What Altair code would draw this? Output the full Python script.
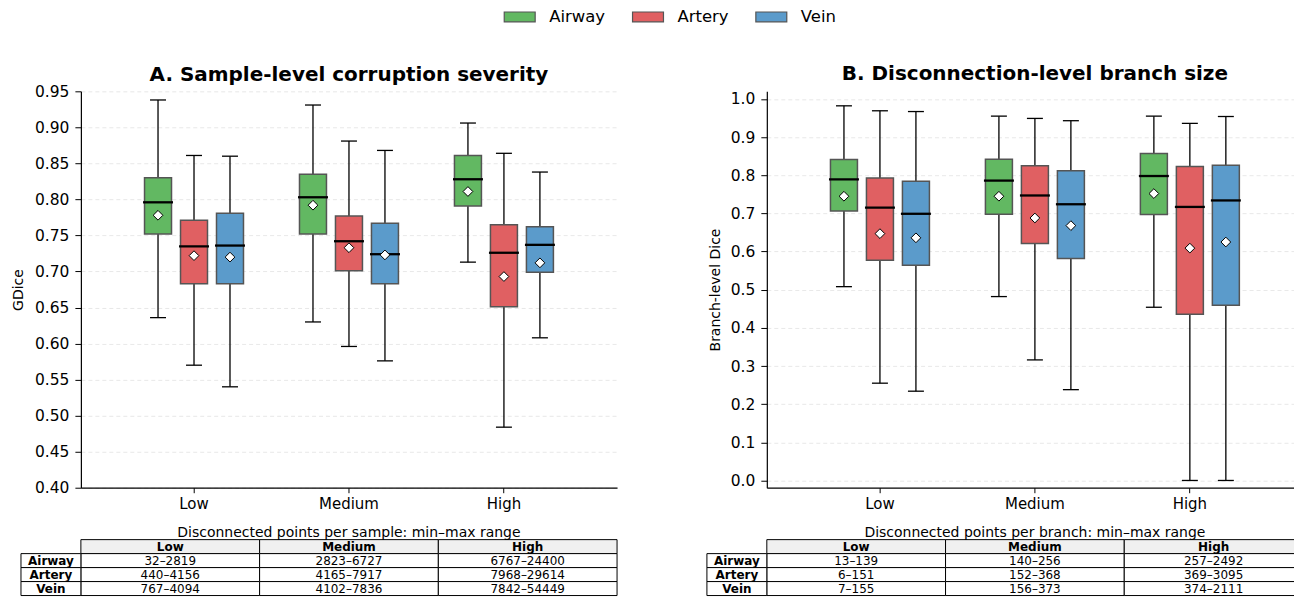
import altair as alt
import pandas as pd

levels = ["Low", "Medium", "High"]
tissues = ["Airway", "Artery", "Vein"]
colors = ["#62b862", "#e06062", "#5b9bcb"]

# Panel A (GDice) -- order: Low(Airway, Artery, Vein), Medium(...), High(...)
a_lo = [0.636, 0.570, 0.540, 0.630, 0.596, 0.576, 0.713, 0.484, 0.608]
a_q1 = [0.752, 0.683, 0.683, 0.752, 0.701, 0.683, 0.791, 0.651, 0.699]
a_med = [0.796, 0.735, 0.736, 0.803, 0.742, 0.724, 0.828, 0.726, 0.737]
a_mean = [0.778, 0.722, 0.720, 0.792, 0.733, 0.723, 0.811, 0.693, 0.712]
a_q3 = [0.830, 0.771, 0.781, 0.835, 0.777, 0.767, 0.861, 0.765, 0.762]
a_hi = [0.938, 0.861, 0.860, 0.931, 0.881, 0.868, 0.906, 0.864, 0.838]

# Panel B (Branch-level Dice)
b_lo = [0.508, 0.255, 0.234, 0.482, 0.316, 0.238, 0.454, 0.000, 0.000]
b_q1 = [0.706, 0.577, 0.564, 0.698, 0.621, 0.582, 0.697, 0.436, 0.459]
b_med = [0.789, 0.715, 0.699, 0.786, 0.747, 0.724, 0.798, 0.717, 0.734]
b_mean = [0.745, 0.647, 0.636, 0.745, 0.688, 0.668, 0.752, 0.609, 0.625]
b_q3 = [0.841, 0.793, 0.784, 0.842, 0.825, 0.812, 0.857, 0.823, 0.826]
b_hi = [0.982, 0.969, 0.967, 0.955, 0.949, 0.943, 0.955, 0.936, 0.954]

# Tables: min-max ranges of disconnected points
tab_a = [["32–2819", "2823–6727", "6767–24400"],
         ["440–4156", "4165–7917", "7968–29614"],
         ["767–4094", "4102–7836", "7842–54449"]]
tab_b = [["13–139", "140–256", "257–2492"],
         ["6–151", "152–368", "369–3095"],
         ["7–155", "156–373", "374–2111"]]

FONT = "DejaVu Sans"
BOX_H = 397
TAB_H = 56


def make_box(lo, q1, med, mean, q3, hi, ydom, yticks, fmt, title, ytitle,
             width, pad_outer, legend, title_pad, title_off):
    df = pd.DataFrame({
        "level": [l for l in levels for _ in tissues],
        "tissue": [t for _ in levels for t in tissues],
        "lo": lo, "q1": q1, "med": med, "mean": mean, "q3": q3, "hi": hi,
    })
    xenc = alt.X("level:N", sort=levels,
                 scale=alt.Scale(paddingInner=0, paddingOuter=pad_outer),
                 axis=alt.Axis(title=None, labelAngle=0, tickSize=5,
                               labelPadding=4, grid=False, labelFontSize=15))
    xoff = alt.XOffset("tissue:N", sort=tissues,
                       scale=alt.Scale(paddingInner=0.25, paddingOuter=0.778))
    ysc = alt.Scale(domain=ydom, nice=False, zero=False)
    yax = alt.Axis(values=yticks, format=fmt, grid=True, tickSize=6,
                   labelPadding=6, titlePadding=title_pad, labelOverlap=False,
                   labelFontSize=15.5, titleFontSize=14)

    def Y(f):
        return alt.Y(f, scale=ysc, axis=yax, title=ytitle)

    base = alt.Chart(df).encode(x=xenc, xOffset=xoff)
    whisk = base.mark_rule(color="black", strokeWidth=1.3).encode(
        y=Y("lo:Q"), y2="hi:Q")
    box = base.mark_bar(stroke="#555555", strokeWidth=1.5, opacity=1).encode(
        y=Y("q1:Q"), y2="q3:Q",
        color=alt.Color("tissue:N", sort=tissues,
                        scale=alt.Scale(domain=tissues, range=colors),
                        legend=legend))
    cap_lo = base.mark_tick(color="black", size=16, thickness=1.3,
                            opacity=1).encode(y=Y("lo:Q"))
    cap_hi = base.mark_tick(color="black", size=16, thickness=1.3,
                            opacity=1).encode(y=Y("hi:Q"))
    median = base.mark_tick(color="black", size=30, thickness=2.3,
                            opacity=1).encode(y=Y("med:Q"))
    mn = base.mark_point(shape="diamond", filled=True, fill="white",
                         stroke="black", strokeWidth=1, size=95,
                         opacity=1).encode(y=Y("mean:Q"))
    return alt.layer(whisk, box, cap_lo, cap_hi, median, mn).properties(
        width=width, height=BOX_H,
        title=alt.Title(title, font=FONT, fontSize=20, fontWeight="bold",
                        color="black", anchor="middle", offset=title_off))


def make_table(rows, title, width, label_w):
    ncol = len(levels)
    lab = -label_w * ncol / width
    hdr = pd.DataFrame({"x0": list(range(ncol)),
                        "x1": [i + 1 for i in range(ncol)],
                        "y0": [0] * ncol, "y1": [1] * ncol,
                        "xc": [i + 0.5 for i in range(ncol)],
                        "yc": [0.5] * ncol, "txt": levels})
    recs = []
    for r, t in enumerate(tissues):
        for c in range(ncol):
            recs.append({"x0": c, "x1": c + 1, "y0": r + 1, "y1": r + 2,
                         "xc": c + 0.5, "yc": r + 1.5, "txt": rows[r][c]})
    body = pd.DataFrame(recs)
    labs = pd.DataFrame({"x0": [lab] * 3, "x1": [0] * 3,
                         "y0": [1, 2, 3], "y1": [2, 3, 4],
                         "xc": [lab / 2] * 3, "yc": [1.5, 2.5, 3.5],
                         "txt": tissues})
    xs = alt.Scale(domain=[0, ncol], nice=False, zero=False)
    ys = alt.Scale(domain=[0, 4], nice=False, zero=False, reverse=True)

    def rect(df, fill):
        return alt.Chart(df).mark_rect(fill=fill, stroke="black",
                                       strokeWidth=1).encode(
            x=alt.X("x0:Q", scale=xs, axis=None), x2="x1:Q",
            y=alt.Y("y0:Q", scale=ys, axis=None), y2="y1:Q")

    def text(df, weight):
        return alt.Chart(df).mark_text(font=FONT, fontSize=12,
                                       fontWeight=weight, color="black",
                                       baseline="middle", dy=0.5).encode(
            x=alt.X("xc:Q", scale=xs, axis=None),
            y=alt.Y("yc:Q", scale=ys, axis=None), text="txt:N")

    ttl = alt.Chart(pd.DataFrame({"t": [title]})).mark_text(
        font=FONT, fontSize=14, color="black", baseline="middle").encode(
        x=alt.value(width / 2), y=alt.value(-7), text="t:N")
    return alt.layer(rect(hdr, "#f0f0f0"), rect(body, "white"),
                     rect(labs, "white"), text(hdr, "bold"),
                     text(body, "normal"), text(labs, "bold"),
                     ttl).properties(width=width, height=TAB_H)


legend = alt.Legend(title=None, orient="none", legendX=431, legendY=-83,
                    direction="horizontal", columns=3,
                    symbolType="M-2,-0.64H2V0.64H-2Z", symbolSize=240,
                    symbolStrokeColor="#555555", symbolStrokeWidth=1.2,
                    symbolOpacity=1, labelFont=FONT, labelFontSize=16.5,
                    labelColor="black", labelOffset=21, columnPadding=23.5,
                    padding=0)

WA, WB = 537, 537
boxA = make_box(a_lo, a_q1, a_med, a_mean, a_q3, a_hi, [0.40, 0.95],
                [round(0.40 + 0.05 * i, 2) for i in range(12)], ".2f",
                "A. Sample-level corruption severity", "GDice", WA, 0.23,
                legend, 9, -1)
boxB = make_box(b_lo, b_q1, b_med, b_mean, b_q3, b_hi, [-0.019, 1.02],
                [round(0.1 * i, 1) for i in range(11)], ".1f",
                "B. Disconnection-level branch size", "Branch-level Dice",
                WB, 0.23, legend, 8, 7)
tabA = make_table(tab_a, "Disconnected points per sample: min–max range",
                  WA, 60)
tabB = make_table(tab_b, "Disconnected points per branch: min–max range",
                  WB, 60)

chart = alt.concat(boxA, boxB, tabA, tabB, columns=2,
                   spacing={"row": 52, "column": 150},
                   bounds="flush", align="each").resolve_scale(
    xOffset="independent"
).properties(
    padding={"left": 3, "top": 0, "right": -10, "bottom": 0}
).configure_view(stroke=None).configure_axis(
    labelFont=FONT, titleFont=FONT,
    titleFontWeight="normal", labelColor="black", titleColor="black",
    domainColor="black", domainWidth=1.2, tickColor="black", tickWidth=1,
    gridColor="#e2e2e2", gridDash=[4, 3], gridWidth=0.8
).configure_axisX(grid=False)

chart.save("out.html", embed_options={"renderer": "svg", "actions": False})
